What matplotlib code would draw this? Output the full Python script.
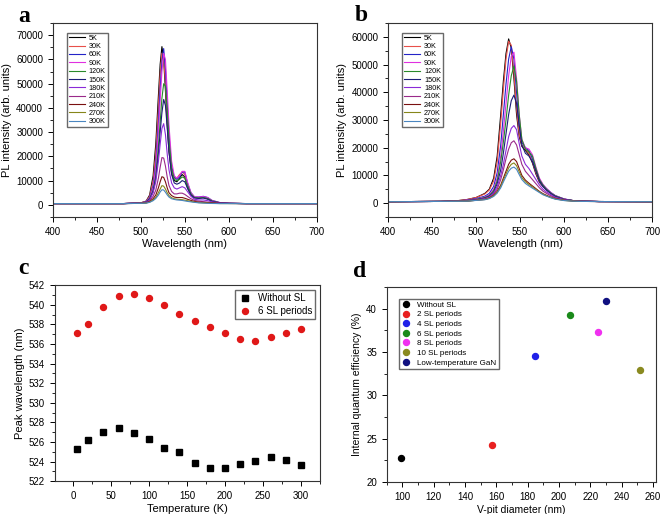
import numpy as np
import matplotlib.pyplot as plt
from matplotlib.ticker import MultipleLocator

plt.rcParams["font.family"] = ["Liberation Sans", "DejaVu Sans"]

# ---------------------------------------------------------------------------
# Data (intensities in thousands of counts)
# ---------------------------------------------------------------------------
temps = ["5K", "30K", "60K", "90K", "120K", "150K", "180K", "210K", "240K", "270K", "300K"]
temp_colors = ["#000000", "#e8504a", "#2424c8", "#e030e0", "#2a8a2a", "#1c1c78",
               "#8a2ad8", "#9a2a8a", "#7a1010", "#86861a", "#4a86c0"]

wl_a = [400, 480, 500, 506, 510, 514, 517, 520, 522, 524, 526, 528, 530, 532, 535, 538,
        541, 544, 547, 550, 553, 557, 561, 566, 571, 576, 581, 590, 600, 620, 700]
pl_a_5K = [0.5, 0.5, 0.8, 1.5, 4, 12, 25, 45, 58, 65.3, 60, 47, 33, 22, 13, 10,
           9.5, 11, 12.5, 11.5, 7, 4, 3, 3, 3, 2.5, 1.5, 0.8, 0.6, 0.5, 0.5]
pl_a_30K = [0.5, 0.5, 0.8, 1.5, 3.5, 10, 21, 40, 54, 62.5, 61, 50, 36, 24, 14, 11,
            11, 12.5, 13.5, 12.5, 8, 4.5, 3, 3, 3.2, 2.5, 1.5, 0.8, 0.6, 0.5, 0.5]
pl_a_60K = [0.5, 0.5, 0.75, 1.3, 3, 8, 17, 34, 48, 59, 64.5, 56, 42, 29, 16, 11.5,
            10.5, 11.5, 13.5, 13.5, 9, 5, 3.2, 3.2, 3.5, 3, 1.8, 0.9, 0.6, 0.5, 0.5]
pl_a_90K = [0.5, 0.5, 0.75, 1.2, 2.8, 7, 15, 30, 43, 55, 62.5, 60, 47, 33, 18, 12,
            11, 12, 13.8, 13.8, 9.5, 5, 3.3, 3.2, 3.4, 3, 1.8, 0.9, 0.6, 0.5, 0.5]
pl_a_120K = [0.5, 0.5, 0.7, 1.1, 2.5, 6, 12, 24, 34, 44, 50, 49, 39, 27, 15, 10.5,
             10, 10.5, 11.5, 11, 8, 4.5, 3, 2.8, 3, 2.6, 1.6, 0.8, 0.6, 0.5, 0.5]
pl_a_150K = [0.5, 0.5, 0.7, 1.1, 2.3, 5.5, 11, 21, 30, 38, 43.5, 41, 32, 22, 12.5, 9,
             8.5, 9, 10, 9.5, 7, 4, 2.8, 2.6, 2.8, 2.3, 1.4, 0.8, 0.6, 0.5, 0.5]
pl_a_180K = [0.5, 0.5, 0.7, 1, 2, 5, 9.5, 18, 25, 31.5, 33.5, 29, 21, 14.5, 9, 7,
             6.5, 7, 7.5, 7, 5.5, 3.5, 2.3, 2, 2, 1.7, 1.2, 0.7, 0.6, 0.5, 0.5]
pl_a_210K = [0.5, 0.5, 0.65, 0.9, 1.6, 3.5, 6, 11, 15.5, 19.5, 19.3, 16, 11.5, 8, 5.5, 4.5,
             4.5, 4.8, 4.8, 4.3, 3.5, 2.5, 1.8, 1.5, 1.3, 1.1, 0.9, 0.6, 0.55, 0.5, 0.5]
pl_a_240K = [0.5, 0.5, 0.6, 0.8, 1.3, 2.5, 4, 7, 9.5, 11.6, 11.3, 9.5, 7, 5, 3.8, 3.2,
             3, 3, 3, 2.7, 2.3, 1.8, 1.4, 1.1, 1, 0.9, 0.8, 0.6, 0.55, 0.5, 0.5]
pl_a_270K = [0.5, 0.5, 0.6, 0.7, 1.1, 2, 3, 5, 6.5, 7.9, 7.7, 6.5, 5, 3.8, 2.9, 2.5,
             2.3, 2.2, 2.1, 1.9, 1.7, 1.4, 1.1, 0.9, 0.8, 0.7, 0.6, 0.5, 0.5, 0.5, 0.5]
pl_a_300K = [0.5, 0.5, 0.6, 0.7, 1, 1.7, 2.6, 4, 5.3, 6.2, 6.1, 5.2, 4.1, 3.2, 2.5, 2.2,
             2, 1.9, 1.8, 1.6, 1.4, 1.2, 1, 0.8, 0.7, 0.6, 0.55, 0.5, 0.5, 0.5, 0.5]

wl_b = [400, 460, 480, 490, 500, 510, 515, 520, 524, 528, 531, 534, 537, 540, 543, 546,
        549, 552, 556, 560, 564, 568, 572, 576, 580, 585, 590, 600, 610, 620, 640, 700]
pl_b_5K = [0.5, 0.6, 0.9, 1.3, 2, 3.5, 5, 9, 17, 32, 44, 54, 59.3, 56, 45, 32,
           24, 20.5, 19, 17.5, 14.5, 10.5, 7.5, 6, 4.8, 3.5, 2.5, 1.4, 0.9, 0.7, 0.55, 0.5]
pl_b_30K = [0.5, 0.6, 0.9, 1.3, 2, 3.3, 4.7, 8, 15, 29, 41, 52, 58.5, 57, 47, 34,
            25, 21, 19.5, 18, 15, 11, 7.8, 6.2, 5, 3.6, 2.6, 1.4, 0.9, 0.7, 0.55, 0.5]
pl_b_60K = [0.5, 0.6, 0.8, 1.1, 1.6, 2.5, 3.5, 6, 11, 21, 32, 43, 52, 56.5, 52, 40,
            28, 22, 20, 19, 16, 12, 8.5, 6.5, 5.2, 3.8, 2.7, 1.5, 0.9, 0.7, 0.55, 0.5]
pl_b_90K = [0.5, 0.6, 0.8, 1, 1.4, 2.2, 3, 5, 9, 17, 26, 36, 46, 53, 54.5, 45,
            32, 23, 20, 19.5, 17.5, 13, 9, 6.8, 5.3, 3.8, 2.7, 1.5, 0.9, 0.7, 0.55, 0.5]
pl_b_120K = [0.5, 0.6, 0.7, 0.9, 1.3, 2, 2.7, 4.5, 8, 15, 22, 30, 39, 46, 49.5, 44,
             32, 23, 19.5, 18.5, 17, 12.5, 8.5, 6.5, 5, 3.6, 2.6, 1.4, 0.9, 0.7, 0.55, 0.5]
pl_b_150K = [0.5, 0.6, 0.7, 0.9, 1.2, 1.8, 2.5, 4, 7, 12, 18, 25, 32, 37, 39, 36,
             28, 21, 18, 17, 15, 11.5, 8, 6, 4.7, 3.4, 2.4, 1.3, 0.9, 0.7, 0.55, 0.5]
pl_b_180K = [0.5, 0.6, 0.7, 0.8, 1.1, 1.6, 2.2, 3.5, 6, 10, 14, 19, 24, 27, 28, 26.5,
             21.5, 17, 14, 12.5, 10.5, 8.5, 6.5, 5, 4, 3, 2.1, 1.2, 0.8, 0.65, 0.55, 0.5]
pl_b_210K = [0.5, 0.6, 0.7, 0.8, 1.1, 1.5, 2, 3.2, 5, 8.5, 12, 16, 19.5, 21.8, 22.5, 21,
             17.5, 14, 11.5, 10, 8.5, 7, 5.5, 4.3, 3.5, 2.6, 1.9, 1.1, 0.8, 0.65, 0.55, 0.5]
pl_b_240K = [0.5, 0.6, 0.65, 0.7, 1, 1.3, 1.8, 2.8, 4.2, 6.5, 9, 11.5, 14, 15.5, 16, 15,
             12.5, 10, 8.3, 7.2, 6.2, 5.2, 4.2, 3.4, 2.8, 2.1, 1.6, 1, 0.75, 0.6, 0.55, 0.5]
pl_b_270K = [0.5, 0.6, 0.65, 0.7, 1, 1.3, 1.7, 2.6, 3.9, 6, 8.3, 10.5, 12.7, 14, 14.5, 13.5,
             11.3, 9.2, 7.7, 6.7, 5.8, 4.9, 4, 3.2, 2.6, 2, 1.5, 0.95, 0.7, 0.6, 0.55, 0.5]
pl_b_300K = [0.5, 0.6, 0.65, 0.7, 0.95, 1.2, 1.6, 2.4, 3.6, 5.5, 7.6, 9.6, 11.5, 12.6, 13, 12.2,
             10.3, 8.5, 7.1, 6.2, 5.4, 4.6, 3.8, 3, 2.5, 1.9, 1.4, 0.9, 0.7, 0.6, 0.55, 0.5]

spectra_a = [pl_a_5K, pl_a_30K, pl_a_60K, pl_a_90K, pl_a_120K, pl_a_150K,
             pl_a_180K, pl_a_210K, pl_a_240K, pl_a_270K, pl_a_300K]
spectra_b = [pl_b_5K, pl_b_30K, pl_b_60K, pl_b_90K, pl_b_120K, pl_b_150K,
             pl_b_180K, pl_b_210K, pl_b_240K, pl_b_270K, pl_b_300K]

# Panel c: peak wavelength vs temperature
temperature = [5, 20, 40, 60, 80, 100, 120, 140, 160, 180, 200, 220, 240, 260, 280, 300]
peak_no_sl = [525.3, 526.2, 527.0, 527.4, 526.9, 526.3, 525.4, 525.0,
              523.8, 523.3, 523.3, 523.7, 524.1, 524.5, 524.2, 523.6]
peak_6sl = [537.1, 538.0, 539.8, 540.9, 541.1, 540.7, 540.0, 539.1,
            538.3, 537.7, 537.1, 536.5, 536.3, 536.7, 537.1, 537.5]

# Panel d: IQE vs V-pit diameter
samples = ["Without SL", "2 SL periods", "4 SL periods", "6 SL periods",
           "8 SL periods", "10 SL periods", "Low-temperature GaN"]
vpit_diameter = [99, 157, 185, 207, 225, 252, 230]
iqe = [22.8, 24.3, 34.5, 39.2, 37.3, 32.9, 40.9]
sample_colors = ["#000000", "#e82020", "#2020e8", "#1a8a1a", "#f030f0", "#8a8a20", "#101080"]


def style_axes(ax, xmaj, xmin, ymaj, ymin):
    ax.xaxis.set_major_locator(MultipleLocator(xmaj))
    ax.xaxis.set_minor_locator(MultipleLocator(xmin))
    ax.yaxis.set_major_locator(MultipleLocator(ymaj))
    ax.yaxis.set_minor_locator(MultipleLocator(ymin))
    ax.tick_params(which="both", direction="out", top=False, right=False, labelsize=7)
    ax.tick_params(which="major", length=3.5, width=0.7)
    ax.tick_params(which="minor", length=2, width=0.6)
    for s in ax.spines.values():
        s.set_linewidth(0.8)
        s.set_color("#333333")


fig = plt.figure(figsize=(6.6, 5.14), dpi=100)
ax_a = fig.add_axes([0.080, 0.578, 0.400, 0.377])
ax_b = fig.add_axes([0.588, 0.578, 0.400, 0.377])
ax_c = fig.add_axes([0.083, 0.064, 0.402, 0.381])
ax_d = fig.add_axes([0.586, 0.062, 0.408, 0.380])

# --- a / b: PL spectra ---
for ax, wl, spectra, ylim in [(ax_a, wl_a, spectra_a, (-5000, 75000)),
                              (ax_b, wl_b, spectra_b, (-5000, 65000))]:
    for name, col, pl in zip(temps, temp_colors, spectra):
        ax.plot(wl, np.array(pl) * 1000, color=col, lw=0.8, label=name)
    ax.set_xlim(400, 700)
    ax.set_ylim(*ylim)
    style_axes(ax, 50, 25, 10000, 5000)
    ax.set_xlabel("Wavelength (nm)", fontsize=8, labelpad=2)
    ax.set_ylabel("PL intensity (arb. units)", fontsize=8, labelpad=3)
    ax.legend(loc="upper left", fontsize=5.2, frameon=True, fancybox=False,
              edgecolor="#444444", handlelength=2.2, handletextpad=0.5,
              labelspacing=0.18, borderpad=0.3, bbox_to_anchor=(0.04, 0.97))

# --- c: peak wavelength ---
ax_c.plot(temperature, peak_no_sl, "s", color="black", ms=4, label="Without SL")
ax_c.plot(temperature, peak_6sl, "o", color="#e01818", ms=4.3, label="6 SL periods")
ax_c.set_xlim(-24, 325)
ax_c.set_ylim(522, 542)
style_axes(ax_c, 50, 25, 2, 1)
ax_c.set_xlabel("Temperature (K)", fontsize=8, labelpad=2)
ax_c.set_ylabel("Peak wavelength (nm)", fontsize=8, labelpad=3)
ax_c.legend(loc="upper right", fontsize=7, frameon=True, fancybox=False,
            edgecolor="#444444", handletextpad=0.6, labelspacing=0.3,
            borderpad=0.3, handlelength=1.5)

# --- d: IQE ---
for name, col, x, y in zip(samples, sample_colors, vpit_diameter, iqe):
    ax_d.plot([x], [y], "o", color=col, ms=4.3, label=name)
ax_d.set_xlim(90, 262)
ax_d.set_ylim(20, 42.5)
style_axes(ax_d, 20, 10, 5, 2.5)
ax_d.set_xlabel("V-pit diameter (nm)", fontsize=7.5, labelpad=2)
ax_d.set_ylabel("Internal quantum efficiency (%)", fontsize=7.5, labelpad=3)
ax_d.legend(loc="upper left", fontsize=5.8, frameon=True, fancybox=False,
            edgecolor="#444444", handletextpad=0.8, labelspacing=0.25,
            borderpad=0.3, handlelength=1.2, bbox_to_anchor=(0.03, 0.96))

# panel letters
for txt, x, y in [("a", 0.027, 0.948), ("b", 0.537, 0.95), ("c", 0.027, 0.458), ("d", 0.535, 0.452)]:
    fig.text(x, y, txt, fontsize=17, fontweight="bold", family="Liberation Serif",
             va="bottom", ha="left")

fig.savefig("out.png", dpi=100)
